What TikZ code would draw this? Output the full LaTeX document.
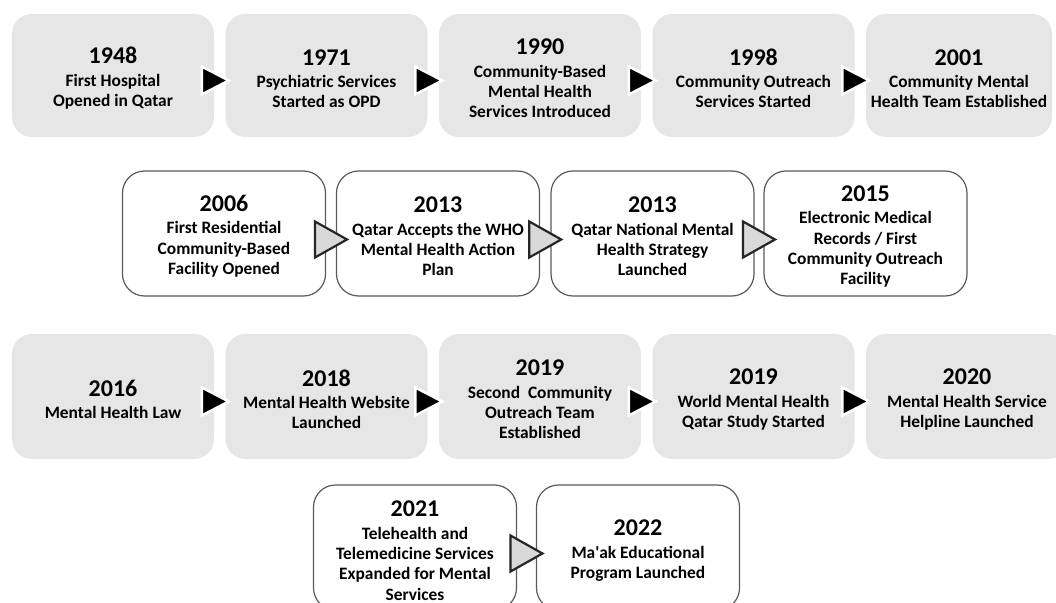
\documentclass[tikz,border=0pt]{standalone}
\usepackage{fontspec}
\setmainfont{Carlito}
\usepackage{tikz}
\usetikzlibrary{calc}

\definecolor{boxgrey}{RGB}{230,230,230}
\definecolor{edgegrey}{RGB}{90,90,90}
\definecolor{tipgrey}{RGB}{217,217,217}
\newcommand{\yearfont}{\fontsize{24bp}{24bp}\selectfont\rule{0pt}{22bp}}

\begin{document}
\begin{tikzpicture}[x=1bp, y=-1bp,
        every node/.style={align=center, inner sep=0pt, font=\bfseries\fontsize{17.4bp}{20.3bp}\selectfont},
        greybox/.style={rectangle, rounded corners=20bp, fill=boxgrey, minimum width=202bp, minimum height=123bp},
        whitebox/.style={rectangle, rounded corners=22bp, draw=edgegrey, line width=1.2bp, fill=white, minimum width=203bp, minimum height=125bp},
        pics/solidtip/.style={code={\draw[fill=black, draw=white, line width=2.5bp] (-18,-9) -- (9,5) -- (-18,19) -- cycle;}},
        pics/opentip/.style={code={\draw[fill=tipgrey, draw=black!85, line width=2.2bp] (-16,-12) -- (16,6) -- (-16,24) -- cycle;}}]
        \useasboundingbox (0,0) rectangle (1056,603);
        \clip (0,0) rectangle (1056,603);

        % row 1
        \node[greybox] (e1948) at (113,75.5) {{\yearfont 1948}\\[2bp]First Hospital\\Opened in Qatar};
        \node[greybox] (e1971) at (326.5,75.5) {{\yearfont 1971}\\[2bp]Psychiatric Services\\Started as OPD};
        \node[greybox] (e1990) at (540,75.5) {{\yearfont 1990}\\[2bp]Community-Based\\Mental Health\\Services Introduced};
        \node[greybox] (e1998) at (753.5,75.5) {{\yearfont 1998}\\[2bp]Community Outreach\\Services Started};
        \node[greybox, minimum width=186bp] (e2001) at (959,75.5) {{\yearfont 2001}\\[2bp]Community Mental\\Health Team Established};

        % row 2
        \node[whitebox] (e2006) at (224,233.5) {{\yearfont 2006}\\[2bp]First Residential\\Community-Based\\Facility Opened};
        \node[whitebox] (e2013a) at (438,233.5) {{\yearfont 2013}\\[2bp]Qatar Accepts the WHO\\Mental Health Action\\Plan};
        \node[whitebox] (e2013b) at (652.5,233.5) {{\yearfont 2013}\\[2bp]Qatar National Mental\\Health Strategy\\Launched};
        \node[whitebox] (e2015) at (865.5,233.5) {{\yearfont 2015}\\[2bp]Electronic Medical\\Records / First\\Community Outreach\\Facility};

        % row 3
        \node[greybox, minimum height=125bp] (e2016) at (113,396.5) {{\yearfont 2016}\\[2bp]Mental Health Law};
        \node[greybox, minimum height=125bp] (e2018) at (326.5,396.5) {{\yearfont 2018}\\[2bp]Mental Health Website\\Launched};
        \node[greybox, minimum height=125bp] (e2019a) at (540,396.5) {{\yearfont 2019}\\[2bp]Second\ \ Community\\Outreach Team\\Established};
        \node[greybox, minimum height=125bp] (e2019b) at (753.5,396.5) {{\yearfont 2019}\\[2bp]World Mental Health\\Qatar Study Started};
        \node[greybox, minimum height=125bp] (e2020) at (967,396.5) {{\yearfont 2020}\\[2bp]Mental Health Service\\Helpline Launched};

        % row 4
        \node[whitebox] (e2021) at (415,547.5) {{\yearfont 2021}\\[2bp]Telehealth and\\Telemedicine Services\\Expanded for Mental\\Services};
        \node[whitebox] (e2022) at (638,547.5) {{\yearfont 2022}\\[2bp]Ma\textquotesingle ak Educational\\Program Launched};

        % arrow heads between the boxes
        \pic at ($(e1948.east)!0.5!(e1971.west)$) {solidtip};
        \pic at ($(e1971.east)!0.5!(e1990.west)$) {solidtip};
        \pic at ($(e1990.east)!0.5!(e1998.west)$) {solidtip};
        \pic at ($(e1998.east)!0.5!(e2001.west)$) {solidtip};
        \pic at ($(e2006.east)!0.5!(e2013a.west)$) {opentip};
        \pic at ($(e2013a.east)!0.5!(e2013b.west)$) {opentip};
        \pic at ($(e2013b.east)!0.5!(e2015.west)$) {opentip};
        \pic at ($(e2016.east)!0.5!(e2018.west)$) {solidtip};
        \pic at ($(e2018.east)!0.5!(e2019a.west)$) {solidtip};
        \pic at ($(e2019a.east)!0.5!(e2019b.west)$) {solidtip};
        \pic at ($(e2019b.east)!0.5!(e2020.west)$) {solidtip};
        \pic at ($(e2021.east)!0.5!(e2022.west)$) {opentip};
\end{tikzpicture}
\end{document}
